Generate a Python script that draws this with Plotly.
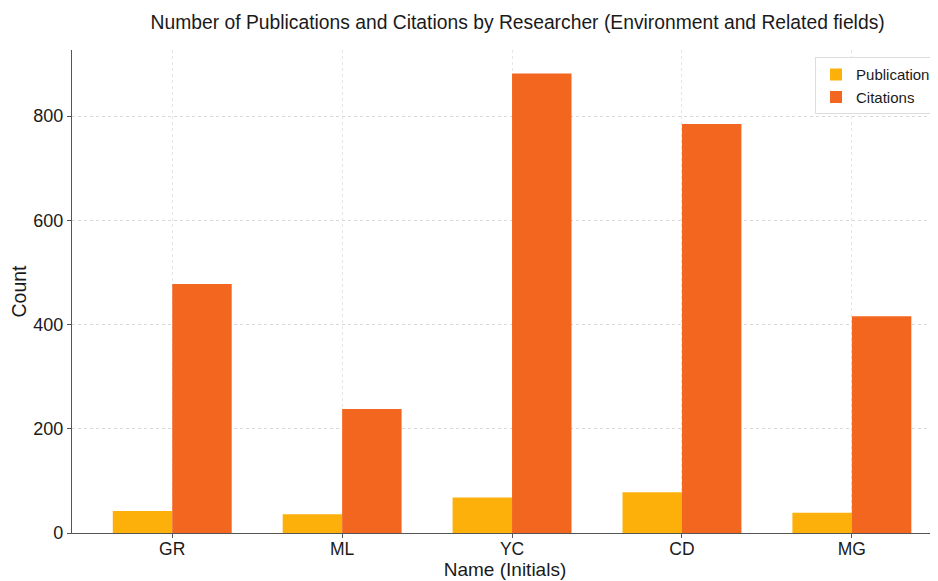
import plotly.graph_objects as go

names = ["GR", "ML", "YC", "CD", "MG"]
publications = [42, 36, 68, 78, 39]
citations = [478, 238, 882, 785, 416]
y_ticks = [0, 200, 400, 600, 800]

x = list(range(len(names)))
font_family = "Liberation Sans, Arial, sans-serif"

fig = go.Figure()
fig.add_trace(go.Bar(x=x, y=publications, name="Publications",
                     marker=dict(color="#FDB00A", line=dict(width=0))))
fig.add_trace(go.Bar(x=x, y=citations, name="Citations",
                     marker=dict(color="#F3661F", line=dict(width=0))))

fig.update_layout(
    width=930, height=573,
    margin=dict(l=64, r=0, t=42, b=48, autoexpand=False),
    paper_bgcolor="white", plot_bgcolor="white",
    barmode="group", bargap=0.3, bargroupgap=0,
    font=dict(family=font_family, color="#1a1a1a", size=18),
    title=dict(text="Number of Publications and Citations by Researcher (Environment and Related fields)",
               x=0.548, xanchor="center", y=0.976, yanchor="middle",
               font=dict(size=19.3, color="#1a1a1a")),
    legend=dict(x=0.858, xanchor="left", y=0.985, yanchor="top",
                bgcolor="rgba(255,255,255,0.9)", bordercolor="#dddddd", borderwidth=1,
                font=dict(size=15), tracegroupgap=0, itemwidth=30),
    xaxis=dict(
        tickmode="array", tickvals=x, ticktext=names,
        range=[-0.59, 4.507],
        showgrid=True, gridcolor="#e6e6e6", griddash="dot", gridwidth=1,
        showline=True, linecolor="#555555", linewidth=1.2,
        ticks="outside", ticklen=4, tickcolor="#555555",
        tickfont=dict(size=17.5), ticklabelstandoff=-4,
        title=dict(text="Name (Initials)", font=dict(size=19), standoff=3),
        zeroline=False, automargin=False,
    ),
    yaxis=dict(
        tickmode="array", tickvals=y_ticks, ticktext=[str(v) for v in y_ticks],
        range=[0, 927],
        showgrid=True, gridcolor="#d8d8d8", griddash="dot", gridwidth=1,
        showline=True, linecolor="#555555", linewidth=1.2,
        ticks="outside", ticklen=4, tickcolor="#555555",
        tickfont=dict(size=18),
        title=dict(text="Count", font=dict(size=19.5), standoff=8),
        zeroline=False, automargin=False,
    ),
)

fig.write_html("out.html")
